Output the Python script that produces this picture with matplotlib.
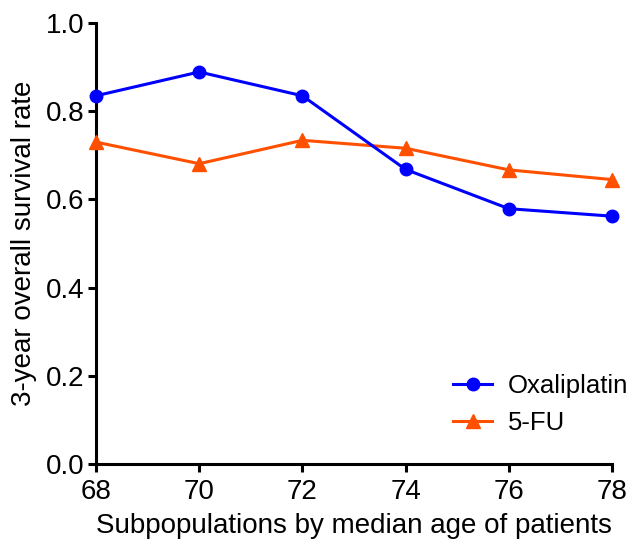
import matplotlib
matplotlib.use('Agg')
import matplotlib.pyplot as plt

plt.rcParams.update({'font.family': ['Liberation Sans', 'DejaVu Sans'], 'font.size': 20})

# subpopulations by median age
ages = [68, 70, 72, 74, 76, 78]
oxaliplatin = [0.835, 0.889, 0.835, 0.668, 0.579, 0.562]
fu = [0.730, 0.681, 0.734, 0.716, 0.667, 0.645]

xticks = [68, 70, 72, 74, 76, 78]
yticks = [0.0, 0.2, 0.4, 0.6, 0.8, 1.0]

fig = plt.figure(figsize=(6.34, 5.44), dpi=100)
ax = fig.add_axes([0.1514, 0.147, 0.8139, 0.8107])

ax.plot(ages, oxaliplatin, color='#0000FF', lw=2.2, marker='o', ms=9,
        label='Oxaliplatin', clip_on=False, zorder=5)
ax.plot(ages, fu, color='#FF5000', lw=2.2, marker='^', ms=9.5,
        label='5-FU', clip_on=False, zorder=4)

ax.set_xlim(68, 78)
ax.set_ylim(0, 1.0)
ax.set_xticks(xticks)
ax.set_yticks(yticks)
ax.set_yticklabels([f'{v:.1f}' for v in yticks])

for s in ['top', 'right']:
    ax.spines[s].set_visible(False)
for s in ['left', 'bottom']:
    ax.spines[s].set_linewidth(2.2)
ax.tick_params(direction='out', length=5.5, width=2.2, pad=3, labelsize=20)
ax.tick_params(axis='x', pad=5)

ax.set_xlabel('Subpopulations by median age of patients', fontsize=20, labelpad=6)
ax.set_ylabel('3-year overall survival rate', fontsize=20, labelpad=6)

ax.legend(loc='center left', bbox_to_anchor=(0.695, 0.257), bbox_transform=fig.transFigure,
          frameon=False, borderpad=0, handlelength=1.5, handletextpad=0.6,
          labelspacing=0.5, fontsize=18.5)

plt.savefig('out.png', dpi=100)
